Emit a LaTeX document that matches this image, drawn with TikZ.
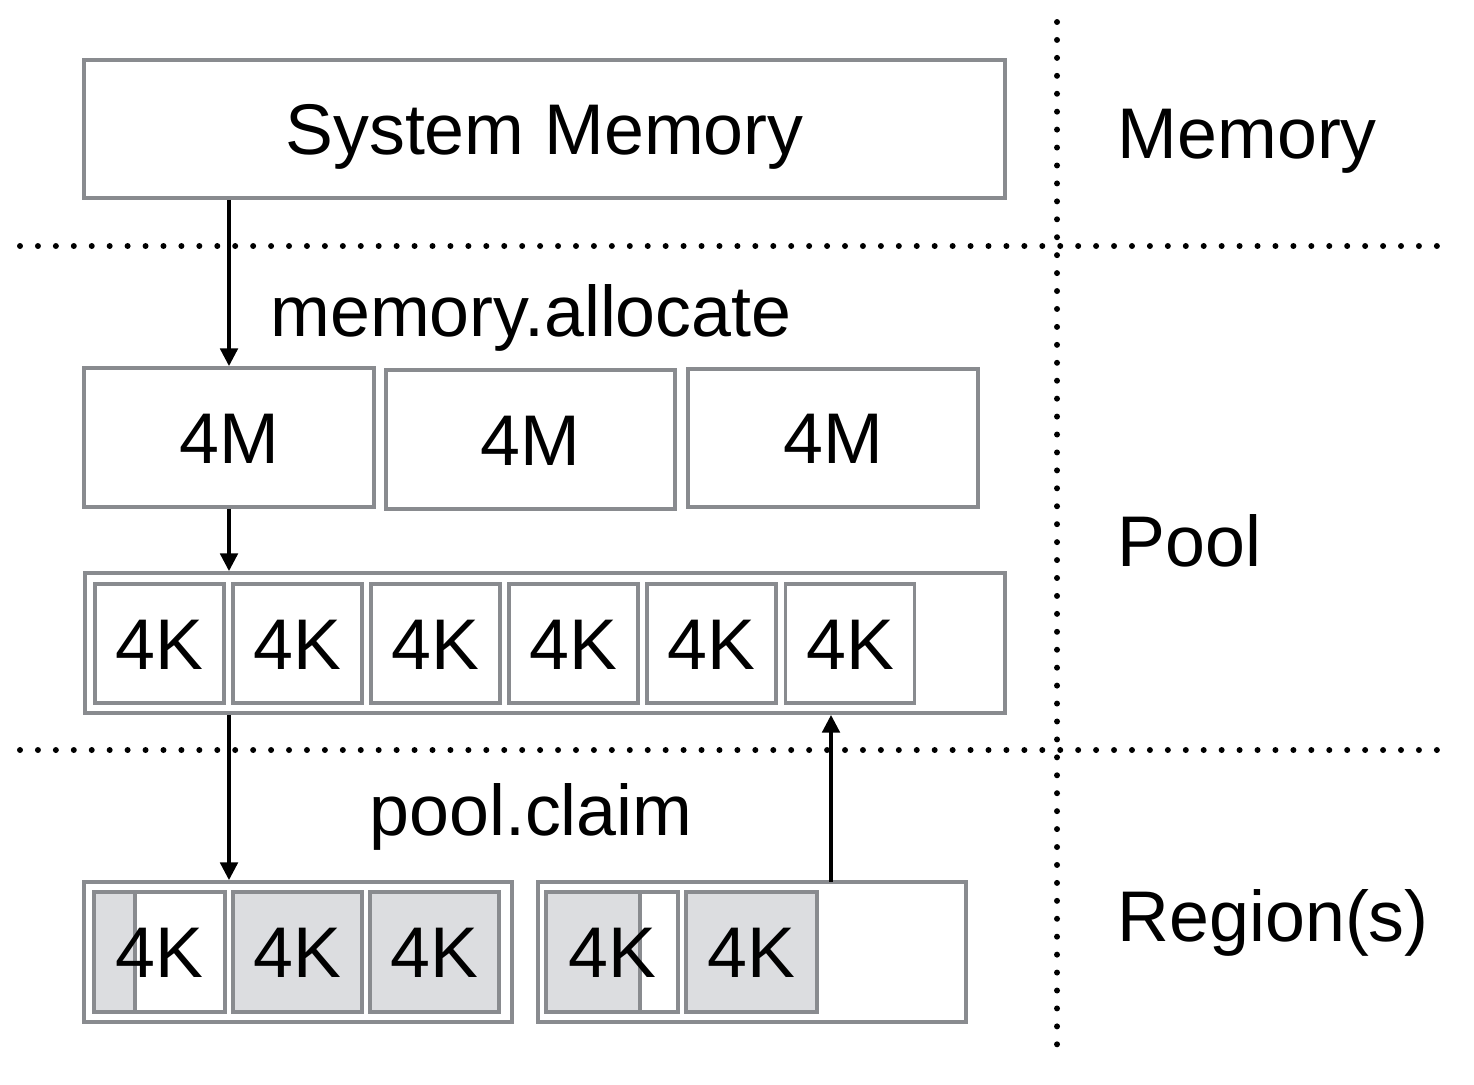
\documentclass[tikz,border=0pt]{standalone}
\usepackage{fontspec}
\setmainfont{Liberation Sans}
\usetikzlibrary{arrows.meta}
\definecolor{boxgray}{HTML}{898B8F}
\definecolor{usedgray}{HTML}{DCDDE0}
\tikzset{
  blk/.style={draw=boxgray, line width=1.1pt, fill=white, inner sep=0pt, text height=14.7pt, text depth=0pt,
    font=\fontsize{20.4}{24}\selectfont},
  used/.style={blk, fill=usedgray},
  part/.style={blk, path picture={\filldraw[draw=boxgray, fill=usedgray, line width=1.1pt]
      (path picture bounding box.south west) rectangle ([xshift=#1]path picture bounding box.north west);}},
  lbl/.style={font=\fontsize{20.4}{24}\selectfont, inner sep=0pt, text height=14.7pt, text depth=0pt},
  sep/.style={line width=1.7pt, line cap=round, dash pattern=on 0pt off 5.1pt},
  flow/.style={->, line width=0.9pt}
}
\begin{document}
\begin{tikzpicture}[x=0.01cm, y=-0.01cm, >={Triangle[length=5pt,width=5pt]}]
    \useasboundingbox (0,0) rectangle (1474,1084);
    % layer separators
    \draw[sep] (1057,22) -- (1057,1050);
    \draw[sep] (20,246) -- (1450,246);
    \draw[sep] (20,750) -- (1450,750);
    % memory layer
    \node[blk, minimum width=9.21cm, minimum height=1.38cm] (sysmem) at (544.5,129) {System Memory};
    \node[lbl, anchor=west] (memlbl) at (1117,133) {Memory};
    % pool layer
    \node[lbl] (alloc) at (531,311) {memory.allocate};
    \node[blk, minimum width=2.9cm, minimum height=1.39cm] (mb1) at (229,437.5) {4M};
    \node[blk, minimum width=2.89cm, minimum height=1.39cm] (mb2) at (530.5,439.5) {4M};
    \node[blk, minimum width=2.9cm, minimum height=1.38cm] (mb3) at (833,438) {4M};
    \node[blk, minimum width=9.2cm, minimum height=1.4cm] (pool) at (545,643) {};
    \foreach \i/\x in {1/159.5, 2/297.5, 3/435.5, 4/573.5, 5/711.5, 6/850}
        \node[blk, minimum width=1.29cm, minimum height=1.19cm] (pk\i) at (\x,643.5) {4K};
    \node[lbl, anchor=west] (poollbl) at (1117,541) {Pool};
    % region layer
    \node[lbl] (claim) at (531,810) {pool.claim};
    \node[blk, minimum width=4.28cm, minimum height=1.4cm] (reg1) at (298,952) {};
    \node[blk, minimum width=4.28cm, minimum height=1.4cm] (reg2) at (752,952) {};
    \node[part=0.41cm, minimum width=1.31cm, minimum height=1.2cm] (rk1) at (159.5,952) {4K};
    \node[used, minimum width=1.29cm, minimum height=1.2cm] (rk2) at (297.5,952) {4K};
    \node[used, minimum width=1.29cm, minimum height=1.2cm] (rk3) at (434.5,952) {4K};
    \node[part=0.94cm, minimum width=1.32cm, minimum height=1.2cm] (rk4) at (612,952) {4K};
    \node[used, minimum width=1.31cm, minimum height=1.2cm] (rk5) at (751.5,952) {4K};
    \node[lbl, anchor=west] (reglbl) at (1117,916) {Region(s)};
    % flows
    \coordinate (ret) at (831,882);
    \draw[flow] (sysmem.south -| mb1.north) -- (mb1.north);
    \draw[flow] (mb1.south) -- (pool.north -| mb1.south);
    \draw[flow] (pool.south -| mb1.south) -- (reg1.north -| mb1.south);
    \draw[flow] (ret) -- (ret |- pool.south);
\end{tikzpicture}
\end{document}
